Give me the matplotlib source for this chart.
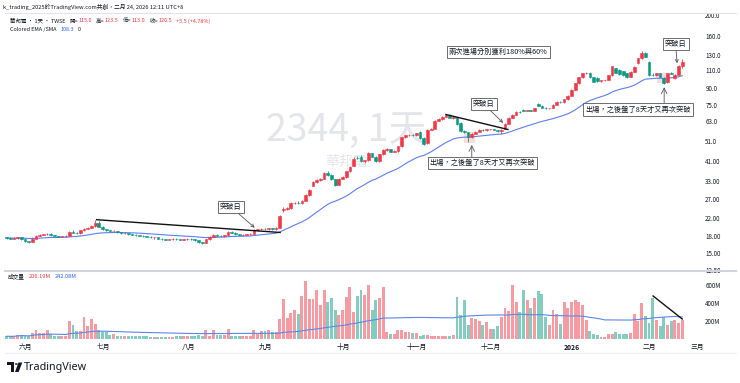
import numpy as np
import pandas as pd
import matplotlib
matplotlib.use("Agg")
import matplotlib.pyplot as plt
from matplotlib.patches import Rectangle, Polygon, Circle
from matplotlib.lines import Line2D

plt.rcParams['font.family'] = ['Noto Sans CJK TC', 'DejaVu Sans']

# ---------------- data ----------------
holidays = ['2025-05-30', '2025-09-29', '2025-10-06', '2025-10-10', '2025-10-24',
            '2025-12-25', '2026-01-01', '2026-02-12', '2026-02-13', '2026-02-16',
            '2026-02-17', '2026-02-18', '2026-02-19', '2026-02-20']
start_date, end_date = '2025-05-23', '2026-02-24'

opens = [17.8, 17.7, 17.6, 17.7, 17.8, 17.5, 17.1, 16.9, 17.6, 18.1,
         18.3, 18.4, 18.5, 18.2, 18.0, 17.9, 18.0, 18.1, 18.9, 18.7,
         18.6, 19.3, 19.6, 19.8, 20.1, 20.9, 20.0, 19.5, 19.3, 19.1,
         19.2, 18.8, 18.6, 18.7, 18.4, 18.3, 18.2, 18.1, 18.0, 17.9,
         17.8, 17.8, 17.6, 17.5, 17.4, 17.5, 17.6, 17.5, 17.4, 17.5,
         17.6, 17.5, 17.3, 16.9, 16.8, 17.5, 17.9, 18.3, 18.1, 18.0,
         18.2, 18.9, 18.7, 18.4, 18.2, 18.3, 18.4, 18.5, 19.3, 19.5,
         19.6, 19.5, 19.7, 19.5, 19.8, 24.0, 24.3, 24.5, 25.8, 25.9,
         25.8, 26.6, 28.2, 31.2, 32.5, 33.4, 33.6, 35.8, 35.1, 33.5,
         31.6, 33.8, 34.2, 36.5, 38.8, 42.4, 42.8, 40.8, 41.2, 44.5,
         42.9, 40.7, 43.9, 46.1, 46.4, 45.3, 45.5, 48.0, 52.8, 54.0,
         54.3, 54.1, 56.2, 52.5, 49.5, 57.4, 58.2, 63.5, 64.5, 66.3,
         67.5, 65.5, 66.0, 61.5, 56.6, 56.0, 53.0, 55.0, 56.2, 57.4,
         57.0, 57.6, 57.8, 57.3, 56.5, 57.8, 61.4, 65.5, 67.6, 70.0,
         71.5, 70.6, 71.0, 70.8, 76.0, 74.6, 72.9, 72.4, 72.6, 75.3,
         78.0, 77.3, 80.2, 83.2, 88.6, 95.0, 101.5, 106.0, 107.0, 101.5,
         101.0, 97.5, 98.2, 98.4, 104.0, 112.4, 110.5, 108.5, 106.1, 101.6,
         108.0, 118.5, 125.0, 132.0, 120.0, 104.5, 104.0, 106.2, 101.0, 96.5,
         106.3, 101.0, 104.5, 115.0]
highs = [17.9, 17.8, 17.8, 17.9, 17.9, 17.6, 17.2, 17.8, 18.2, 18.4,
         18.5, 18.6, 18.6, 18.3, 18.1, 18.1, 18.2, 19.1, 19.3, 18.9,
         19.4, 19.7, 19.9, 20.3, 21.6, 21.2, 20.1, 19.6, 19.4, 19.3,
         19.2, 18.9, 18.8, 18.7, 18.5, 18.4, 18.3, 18.2, 18.1, 18.0,
         17.9, 17.8, 17.7, 17.6, 17.6, 17.7, 17.7, 17.6, 17.6, 17.7,
         17.7, 17.6, 17.4, 17.0, 17.6, 18.0, 18.4, 18.4, 18.2, 18.3,
         19.0, 19.0, 18.8, 18.5, 18.4, 18.5, 18.6, 19.5, 19.6, 19.7,
         19.8, 19.8, 19.8, 19.9, 22.8, 24.8, 24.7, 26.2, 26.3, 26.4,
         26.8, 28.5, 30.2, 32.8, 33.8, 34.0, 36.2, 36.5, 35.4, 33.8,
         34.0, 34.6, 36.8, 38.8, 42.5, 43.2, 43.6, 41.5, 45.0, 44.8,
         43.2, 44.2, 46.5, 47.0, 46.6, 45.9, 48.3, 53.3, 54.5, 54.8,
         55.0, 55.6, 56.5, 52.8, 57.8, 58.6, 64.0, 65.0, 66.8, 68.5,
         67.8, 66.4, 66.2, 62.8, 57.2, 56.2, 55.4, 56.6, 57.8, 58.0,
         58.0, 58.2, 58.1, 57.5, 57.8, 61.8, 66.0, 68.0, 70.4, 70.6,
         72.0, 71.5, 71.4, 72.8, 76.8, 75.0, 73.3, 73.0, 75.6, 78.5,
         78.4, 80.6, 83.6, 89.0, 95.4, 102.0, 106.5, 108.0, 107.4, 102.0,
         101.6, 98.8, 99.0, 104.5, 115.0, 113.0, 111.0, 109.0, 106.5, 108.5,
         114.5, 125.5, 135.0, 133.5, 121.0, 106.0, 107.0, 106.8, 101.5, 107.0,
         107.5, 105.0, 116.0, 123.5]
lows = [17.6, 17.5, 17.5, 17.6, 17.4, 17.0, 16.8, 16.9, 17.5, 18.0,
        18.2, 18.3, 18.1, 17.9, 17.8, 17.8, 17.9, 18.0, 18.6, 18.5,
        18.4, 19.2, 19.5, 19.7, 20.0, 19.9, 19.4, 19.2, 19.0, 19.0,
        18.7, 18.5, 18.5, 18.3, 18.2, 18.1, 18.0, 17.9, 17.8, 17.7,
        17.6, 17.5, 17.4, 17.3, 17.3, 17.4, 17.4, 17.3, 17.3, 17.4,
        17.4, 17.2, 16.8, 16.6, 16.7, 17.4, 17.8, 18.0, 17.9, 17.9,
        18.1, 18.6, 18.3, 18.1, 18.1, 18.2, 18.3, 18.5, 19.2, 19.3,
        19.4, 19.4, 19.4, 19.4, 19.8, 23.6, 24.0, 24.3, 25.5, 25.6,
        25.7, 26.4, 28.0, 31.0, 32.3, 33.0, 33.5, 34.8, 33.2, 31.2,
        31.4, 33.5, 34.0, 36.2, 38.6, 41.8, 40.3, 40.2, 41.0, 42.5,
        40.3, 40.5, 43.6, 45.6, 45.0, 44.9, 45.3, 47.8, 52.3, 53.4,
        53.6, 53.9, 52.0, 48.6, 49.3, 57.0, 58.0, 63.0, 64.2, 65.8,
        65.0, 64.8, 60.5, 56.0, 55.2, 50.5, 52.6, 54.6, 55.8, 56.6,
        56.7, 57.2, 57.0, 56.2, 54.8, 57.6, 61.2, 65.2, 67.3, 69.2,
        70.2, 70.2, 70.4, 70.6, 74.2, 72.6, 72.0, 72.0, 72.4, 75.0,
        76.8, 77.0, 79.8, 83.0, 88.2, 94.6, 101.0, 105.0, 101.0, 96.5,
        97.0, 97.0, 97.6, 98.2, 103.6, 106.0, 104.6, 103.6, 101.2, 101.4,
        107.6, 118.0, 124.5, 126.5, 103.5, 103.0, 103.2, 101.5, 94.0, 96.0,
        105.0, 100.2, 104.0, 113.0]
closes = [17.7, 17.6, 17.7, 17.8, 17.5, 17.1, 16.9, 17.6, 18.1, 18.3,
          18.4, 18.5, 18.2, 18.0, 17.9, 18.0, 18.1, 18.9, 18.7, 18.6,
          19.3, 19.6, 19.8, 20.1, 20.9, 20.0, 19.5, 19.3, 19.1, 19.2,
          18.8, 18.6, 18.7, 18.4, 18.3, 18.2, 18.1, 18.0, 17.9, 17.8,
          17.8, 17.6, 17.5, 17.4, 17.5, 17.6, 17.5, 17.4, 17.5, 17.6,
          17.5, 17.3, 16.9, 16.8, 17.5, 17.9, 18.3, 18.1, 18.0, 18.2,
          18.9, 18.7, 18.4, 18.2, 18.3, 18.4, 18.5, 19.3, 19.5, 19.6,
          19.5, 19.7, 19.5, 19.8, 22.5, 24.3, 24.5, 25.8, 25.9, 25.8,
          26.6, 28.2, 29.9, 32.5, 33.4, 33.6, 35.8, 35.1, 33.5, 31.6,
          33.8, 34.2, 36.5, 38.4, 42.0, 42.1, 40.8, 41.2, 44.5, 42.9,
          40.7, 43.9, 46.1, 46.4, 45.3, 45.5, 48.0, 52.8, 54.0, 54.3,
          54.1, 55.3, 52.5, 49.2, 57.4, 58.2, 63.5, 64.5, 66.3, 67.5,
          65.5, 66.0, 61.0, 56.6, 56.0, 53.0, 55.0, 56.2, 57.4, 57.0,
          57.6, 57.8, 57.3, 56.5, 57.5, 61.4, 65.5, 67.6, 70.0, 69.8,
          70.6, 71.0, 70.8, 72.4, 74.6, 72.9, 72.4, 72.6, 75.3, 78.0,
          77.3, 80.2, 83.2, 88.6, 95.0, 101.5, 106.0, 107.0, 101.5, 97.0,
          97.5, 98.2, 98.4, 104.0, 114.3, 107.0, 105.0, 104.2, 101.6, 108.0,
          114.0, 125.0, 131.8, 127.0, 104.5, 104.0, 106.2, 102.0, 96.0, 106.3,
          105.6, 104.5, 115.0, 120.5]
volumes_m = [30, 30, 30, 48, 48, 30, 30, 67, 104, 67,
             67, 96, 59, 37, 37, 37, 37, 196, 159, 85,
             85, 244, 148, 222, 170, 104, 74, 74, 48, 59,
             30, 30, 30, 30, 30, 37, 37, 37, 37, 22,
             22, 22, 22, 22, 22, 22, 30, 30, 30, 30,
             30, 30, 48, 37, 104, 37, 104, 48, 48, 48,
             111, 37, 37, 37, 37, 37, 37, 96, 59, 85,
             85, 104, 74, 74, 222, 444, 233, 289, 318, 281,
             474, 648, 444, 444, 548, 381, 540, 407, 455, 318,
             270, 326, 466, 577, 296, 474, 548, 492, 600, 318,
             437, 455, 577, 81, 55, 55, 100, 100, 78, 78,
             67, 67, 37, 48, 48, 30, 30, 30, 30, 30,
             30, 48, 466, 270, 437, 159, 233, 222, 196, 159,
             185, 111, 111, 140, 244, 344, 307, 603, 407, 296,
             548, 429, 344, 455, 529, 503, 240, 159, 318, 278,
             170, 407, 344, 407, 437, 407, 381, 207, 85, 59,
             44, 22, 22, 59, 59, 74, 59, 59, 59, 67,
             281, 196, 400, 259, 178, 455, 215, 148, 244, 159,
             196, 207, 178, 206.19]

price_ticks = [200.0, 160.0, 130.0, 110.0, 90.0, 75.0, 63.0, 51.0, 41.0, 33.0,
               27.0, 22.0, 18.0, 15.0, 12.5]
price_tick_labels = ['200.0', '160.0', '130.0', '110.0', '90.0', '75.0', '63.0', '51.0',
                     '41.00', '33.00', '27.00', '22.00', '18.00', '15.00', '12.50']
vol_ticks_m = [200, 400, 600]
vol_tick_labels = ['200M', '400M', '600M']
month_names = {6: '六月', 7: '七月', 8: '八月', 9: '九月', 10: '十月', 11: '十一月',
               12: '十二月', 1: '2026', 2: '二月', 3: '三月'}

# annotation anchors in (bar index, value)
trend1 = [(24.4, 21.6), (74.1, 18.8)]
trend2 = [(119.0, 67.8), (135.8, 57.6)]
vol_trend = [(175.1, 478), (183.0, 222)]

# ---------------- prep ----------------
dates = pd.bdate_range(start_date, end_date)
dates = dates[~dates.isin(pd.to_datetime(holidays))]
n = min(len(dates), len(closes))
dates = dates[:n]
o = np.array(opens[:n]); h = np.array(highs[:n]); l = np.array(lows[:n]); c = np.array(closes[:n])
v = np.array(volumes_m[:n]) * 1e6
idx = np.arange(n)
up = c >= o

ema = pd.Series(c).ewm(span=30, adjust=False).mean().values
vol_ma = pd.Series(v).rolling(60, min_periods=1).mean().values

UP = '#F23645'
DN = '#089981'
VUP = '#F89AA2'
VDN = '#83CCC0'
TXT = '#131722'

W, H = 740, 383
def fx(px): return px / W
def fy(py): return 1 - py / H

fig = plt.figure(figsize=(7.4, 3.83), dpi=100)
fig.patch.set_facecolor('white')

XL = (-0.41, 185.1)
axp = fig.add_axes([fx(5), fy(270), fx(690) - fx(5), fy(14) - fy(270)])
axv = fig.add_axes([fx(5), fy(339), fx(690) - fx(5), fy(272) - fy(339)])

# ---- price pane ----
axp.set_yscale('log')
axp.set_ylim(12.5, 202.2)
axp.set_xlim(*XL)
cols = np.where(up, UP, DN)
axp.vlines(idx, l, h, colors=cols, lw=0.6, zorder=2)
body_lo = np.minimum(o, c)
body_h = np.abs(c - o)
axp.bar(idx, body_h, bottom=body_lo, width=0.74, color=cols, edgecolor=cols, lw=0.4, zorder=3)
axp.plot(idx, ema, color='#5D7DF5', lw=0.8, zorder=2.5)

axp.yaxis.tick_right()
axp.yaxis.set_minor_locator(matplotlib.ticker.NullLocator())
axp.set_yticks(price_ticks)
axp.set_yticklabels(price_tick_labels)
axp.tick_params(axis='y', length=0, pad=11, labelsize=4.5, labelcolor=TXT)
axp.set_xticks([])
for s in axp.spines.values():
    s.set_visible(False)
axp.patch.set_alpha(0)

# watermark
axp.text(fx(346), fy(130), '2344, 1天', transform=fig.transFigure, fontsize=27,
         color='#e3e5ea', ha='center', va='center', zorder=0)
axp.text(fx(346), fy(162), '華邦電', transform=fig.transFigure, fontsize=10,
         color='#e3e5ea', ha='center', va='center', zorder=0)

# trend lines
axp.plot([p[0] for p in trend1], [p[1] for p in trend1], color='#111111', lw=1.0, zorder=4)
axp.plot([p[0] for p in trend2], [p[1] for p in trend2], color='#111111', lw=1.0, zorder=4)

box = dict(boxstyle='square,pad=0.3', fc='white', ec='#555555', lw=0.6)
arr = dict(arrowstyle='->', color='#555555', lw=0.6, shrinkA=0, shrinkB=0)
fs = 5.2
axp.annotate('突破日', xy=(67.2, 19.8), xytext=(60.8, 24.8), fontsize=fs, ha='center', va='center',
             color=TXT, bbox=box, arrowprops=arr, zorder=6)
axp.annotate('突破日', xy=(134.5, 61.9), xytext=(129.2, 76.0), fontsize=fs, ha='center', va='center',
             color=TXT, bbox=box, arrowprops=arr, zorder=6)
axp.annotate('突破日', xy=(181.6, 118.4), xytext=(181.2, 145.9), fontsize=fs, ha='center', va='center',
             color=TXT, bbox=box, arrowprops=arr, zorder=6)
axp.text(133.2, 133.4, '兩次進場分別獲利180%與60%', fontsize=fs, ha='center', va='center',
         color=TXT, bbox=box, zorder=6)

axp.add_patch(Rectangle((123.9, 49.9), 3.0, 56.0 - 49.9, fc='#F23645', alpha=0.18, lw=0, zorder=1))
axp.add_patch(Rectangle((176.2, 95.5), 2.7, 106.9 - 95.5, fc='#F23645', alpha=0.18, lw=0, zorder=1))
axp.annotate('', xy=(126.0, 48.7), xytext=(126.0, 41.6), arrowprops=arr, zorder=6)
axp.annotate('', xy=(178.1, 91.2), xytext=(178.1, 75.4), arrowprops=arr, zorder=6)
axp.text(128.9, 40.0, '出場，之後盤了8天才又再次突破', fontsize=fs, ha='center', va='center',
         color=TXT, bbox=box, zorder=6)
axp.text(171.0, 71.6, '出場，之後盤了8天才又再次突破', fontsize=fs, ha='center', va='center',
         color=TXT, bbox=box, zorder=6)

# ---- volume pane ----
axv.set_xlim(*XL)
axv.set_ylim(0, 744e6)
axv.bar(idx, v, width=0.78, color=np.where(up, VUP, VDN), lw=0, zorder=2)
axv.plot(idx, vol_ma, color='#5B87E8', lw=0.8, zorder=3)
axv.plot([p[0] for p in vol_trend], [p[1] * 1e6 for p in vol_trend], color='#111111', lw=1.0, zorder=4)
axv.yaxis.tick_right()
axv.set_yticks([t * 1e6 for t in vol_ticks_m])
axv.set_yticklabels(vol_tick_labels)
axv.tick_params(axis='y', length=0, pad=11, labelsize=4.5, labelcolor=TXT)
axv.set_xticks([])
for s in axv.spines.values():
    s.set_visible(False)
axv.patch.set_alpha(0)

# month labels
future = pd.bdate_range(dates[-1] + pd.Timedelta(days=1), periods=10)
all_dates = list(dates) + list(future)
blend = matplotlib.transforms.blended_transform_factory(axv.transData, fig.transFigure)
prev_m = None
for i, d in enumerate(all_dates):
    if d.month != prev_m and prev_m is not None and d.month in month_names:
        axv.text(i + 0.2, fy(347), month_names[d.month], transform=blend,
                 fontsize=4.9, ha='center', va='center', color=TXT,
                 fontweight='bold' if d.month == 1 else 'normal', clip_on=False)
    prev_m = d.month

# ---- frame lines ----
fig.add_artist(Line2D([fx(5), fx(736)], [fy(13), fy(13)], color='#e0e3eb', lw=0.8))
fig.add_artist(Line2D([fx(5), fx(736)], [fy(271), fy(271)], color='#d1d4dc', lw=1.5))
fig.add_artist(Line2D([fx(5), fx(736)], [fy(353), fy(353)], color='#eceef2', lw=0.8))

# ---- header & legends ----
fig.text(fx(3), fy(7), 'k_trading_2025於TradingView.com共創，二月 24, 2026 12:11 UTC+8',
         fontsize=4.15, color=TXT, va='center', ha='left')
fig.canvas.draw()
renderer = fig.canvas.get_renderer()

def write_row(parts, x0, y0, size):
    x = x0
    for txt, col, gap in parts:
        t = fig.text(fx(x), fy(y0), txt, fontsize=size, color=col, va='center', ha='left')
        bb = t.get_window_extent(renderer=renderer)
        x += bb.width + gap

legend1 = [('華邦電 · 1天 · TWSE', TXT, 4), ('開=', TXT, 0.5), ('115.0', UP, 4),
           ('高=', TXT, 0.5), ('123.5', UP, 4), ('低=', TXT, 0.5), ('113.0', UP, 4),
           ('收=', TXT, 0.5), ('120.5', UP, 4), ('+5.5 (+4.78%)', UP, 0)]
legend2 = [('Colored EMA /SMA', TXT, 4), ('108.3', '#2962FF', 4), ('0', TXT, 0)]
legend3 = [('成交量', TXT, 4), ('206.19M', UP, 4), ('242.08M', '#2962FF', 0)]
write_row(legend1, 10, 21, 3.95)
write_row(legend2, 10, 29.5, 3.95)
write_row(legend3, 8, 276, 4.1)

# ---- TradingView logo ----
fig.add_artist(Rectangle((fx(6.5), fy(365)), fx(7), fy(0) - fy(3), fc='#131722', lw=0, transform=fig.transFigure))
fig.add_artist(Rectangle((fx(10.5), fy(372)), fx(3), fy(0) - fy(9.5), fc='#131722', lw=0, transform=fig.transFigure))
fig.add_artist(Circle((fx(16.3), fy(364)), 1.5 / W, fc='#131722', lw=0, transform=fig.transFigure))
fig.add_artist(Polygon([(fx(18.5), fy(362.5)), (fx(22.3), fy(362.5)), (fx(18.6), fy(372)), (fx(15.0), fy(372))],
                       closed=True, fc='#131722', lw=0, transform=fig.transFigure))
fig.text(fx(24), fy(367.3), 'TradingView', fontsize=7.8, fontweight='bold', color='#131722',
         va='center', ha='left', family=['Noto Sans', 'DejaVu Sans'])

fig.savefig('out.png', dpi=100)
